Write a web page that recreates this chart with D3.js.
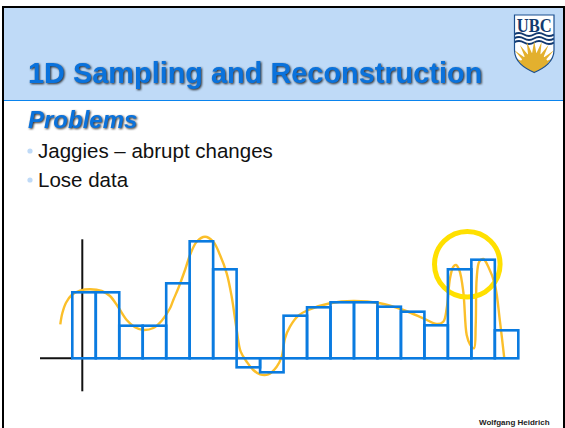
<!DOCTYPE html>
<html><head><meta charset="utf-8">
<script src="https://cdn.jsdelivr.net/npm/d3@7"></script>
<style>html,body{margin:0;padding:0;background:#fff}svg{display:block}
text{font-family:"Liberation Sans",Arial,sans-serif}
.sh{filter:drop-shadow(1.5px 1.5px 1px rgba(20,20,20,.9))}</style>
</head><body><svg id="c" width="565" height="428"></svg>
<script>
// Sample heights (one per bar)
const sampleValues=[66,66,32.6,32.6,75,117,89,-9,-14,42.6,51,56,56,51.6,46.6,33,89,98.6,28];
// Continuous signal
const curveX=[-12,-10,-6.3,-0.6,7.7,17.7,29.4,37.7,46,54.4,62.7,71,81,89.4,97.7,101,106,112.7,117.7,124.4,132.7,141,147.7,154.4,159.4,164.4,168.4,174.4,181,187.7,196,204.4,209.4,212.7,217.7,226,236,257.7,281,307.7,331,351,364.4,371,374.4,377.7,381,383.7,387,391,394.4,397.7,401.7,403.4,404.4,407,411,416,422.7,427.7,432];
const curveY=[34,45,55.6,63.3,67.6,69,67.3,62.3,51,38.3,31,28.3,30.3,37.6,50,58.3,70,88.3,103.3,116.6,121.6,116.6,103.3,85,61.6,28.3,6.6,-3.4,-11.7,-16,-16,-8.4,1.6,20,31.6,42.6,48.3,55,57.3,55,48.3,40,34.3,36.6,50,80,91.6,93.3,88.3,66.6,23.3,14,10,33.3,80,96.6,99.3,91.6,73.3,36.6,0];
const titleText="1D Sampling and Reconstruction";
const subtitleText="Problems";
const bulletItems=["Jaggies – abrupt changes","Lose data"];
const authorText="Wolfgang Heidrich";

const svg=d3.select("#c");
const x=d3.scaleLinear().domain([0,446]).range([72.3,518.3]);
const y=d3.scaleLinear().domain([0,100]).range([358.3,258.3]);
const band=d3.scaleBand().domain(d3.range(sampleValues.length)).range([72.3,518.3]);

// slide
svg.append("rect").attr("x",3).attr("y",7).attr("width",560).attr("height",94).attr("fill","#bfdaf7");
svg.append("line").attr("x1",3).attr("x2",563).attr("y1",100.5).attr("y2",100.5).attr("stroke","#0a84ee").attr("stroke-width",1.2);
svg.append("path").attr("d","M3 428V7H564V428").attr("fill","none").attr("stroke","#000").attr("stroke-width",2);

svg.append("text").attr("class","sh").attr("x",28).attr("y",83).attr("font-size",28.9).attr("font-weight","bold").attr("fill","#0a72dc").text(titleText);
svg.append("text").attr("class","sh").attr("x",28).attr("y",128).attr("font-size",24).attr("font-weight","bold").attr("font-style","italic").attr("fill","#0a72dc").text(subtitleText);
bulletItems.forEach((t,i)=>{
  const by=158+i*29;
  svg.append("circle").attr("cx",30).attr("cy",by-7).attr("r",2.6).attr("fill","#bfdaf7");
  svg.append("text").attr("x",38).attr("y",by).attr("font-size",20.5).attr("fill","#111").text(t);
});
svg.append("text").attr("x",479).attr("y",425).attr("font-size",8).attr("font-weight","bold").attr("fill","#222").text(authorText);

// logo
const logo=svg.append("g");
const shield="M514.5 15H554V50C554 62 544 68 534.2 72.5C524.5 68 514.5 62 514.5 50Z";
svg.append("clipPath").attr("id","sc").append("path").attr("d",shield);
logo.append("path").attr("d",shield).attr("fill","#fff");
const lg=logo.append("g").attr("clip-path","url(#sc)");
[34.5,38.5,42.5].forEach(w=>lg.append("path").attr("d",`M514 ${w}q5 -3 10 0t10 0t10 0t10 0`).attr("fill","none").attr("stroke","#12396f").attr("stroke-width",2));
const rays=d3.range(-80,81,16).map(a=>{const r=a*Math.PI/180,cx=534.2,cy=68,h=3;return `M${cx+Math.sin(r)*10-h} ${cy-Math.cos(r)*10}L${cx+Math.sin(r)*27} ${cy-Math.cos(r)*27}L${cx+Math.sin(r)*10+h} ${cy-Math.cos(r)*10}Z`}).join("");
lg.append("path").attr("d",rays).attr("fill","#e3b02e");
lg.append("circle").attr("cx",534.2).attr("cy",68).attr("r",15).attr("fill","#e3b02e");
logo.append("path").attr("d",shield).attr("fill","none").attr("stroke","#1b4f8f").attr("stroke-width",1.2);
logo.append("text").attr("x",534.2).attr("y",32).attr("text-anchor","middle").attr("font-size",19).attr("font-weight","bold").attr("textLength",35).attr("lengthAdjust","spacingAndGlyphs").attr("style","font-family:'Liberation Serif',serif").attr("fill","#12396f").text("UBC");

// axes
svg.append("line").attr("x1",x(10)).attr("x2",x(10)).attr("y1",y(119)).attr("y2",y(-33)).attr("stroke","#111").attr("stroke-width",2);
svg.append("line").attr("x1",40).attr("x2",x(0)).attr("y1",y(0)).attr("y2",y(0)).attr("stroke","#111").attr("stroke-width",2);

// signal
const line=d3.line().x((d,i)=>x(curveX[i])).y((d,i)=>y(curveY[i])).curve(d3.curveCatmullRom.alpha(0.5));
svg.append("path").datum(curveX).attr("d",line).attr("fill","none").attr("stroke","#fbbf2a").attr("stroke-width",2.4);

// highlight
svg.append("circle").attr("cx",467.3).attr("cy",264.3).attr("r",32.8).attr("fill","none").attr("stroke","#ffe000").attr("stroke-width",5);

// sample bars
svg.append("g").selectAll("rect").data(sampleValues).join("rect")
 .attr("x",(d,i)=>band(i)).attr("width",band.bandwidth())
 .attr("y",d=>Math.min(y(d),y(0))).attr("height",d=>Math.abs(y(d)-y(0)))
 .attr("fill","none").attr("stroke","#0a7be0").attr("stroke-width",2.6);
</script></body></html>
